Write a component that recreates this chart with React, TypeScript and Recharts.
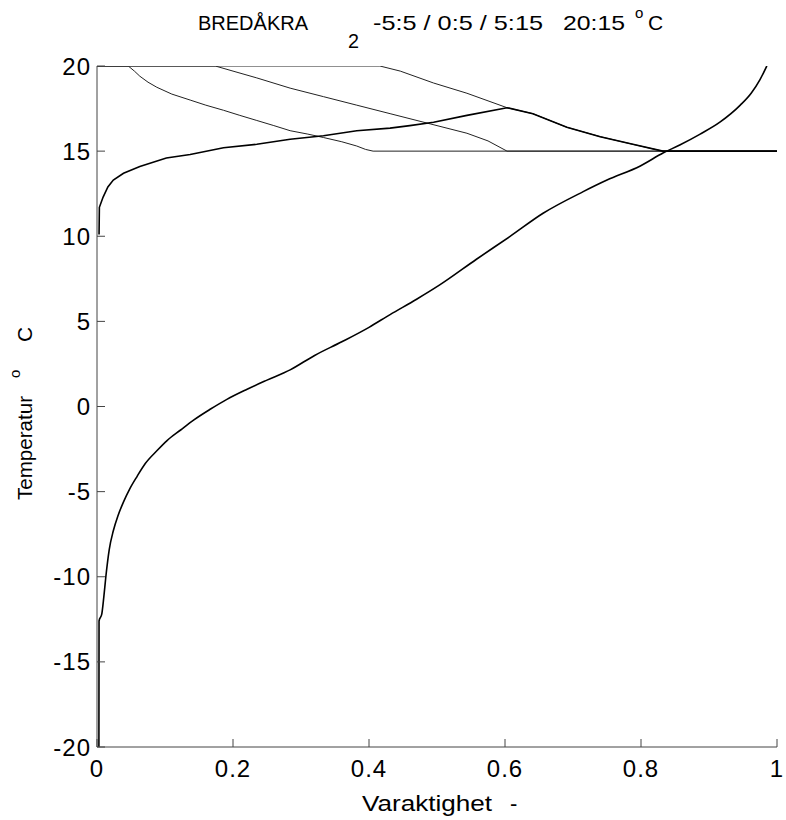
import React from "react";
import { LineChart, Line, XAxis, YAxis } from "recharts";

// ---- data ----
const xTicks = [0, 0.2, 0.4, 0.6, 0.8, 1];
const xTickLabels = ["0", "0.2", "0.4", "0.6", "0.8", "1"];
const yTicks = [-20, -15, -10, -5, 0, 5, 10, 15, 20];
const yTickLabels = ["-20", "-15", "-10", "-5", "0", "5", "10", "15", "20"];

// outdoor temperature duration curve
const durX = [0.0028, 0.003, 0.007, 0.010, 0.013, 0.018, 0.024, 0.031, 0.039, 0.048, 0.059, 0.071, 0.088, 0.103, 0.123, 0.142, 0.167, 0.191, 0.22, 0.25, 0.284, 0.32, 0.36, 0.40, 0.431, 0.47, 0.504, 0.558, 0.607, 0.656, 0.715, 0.75, 0.799, 0.833, 0.857, 0.887, 0.916, 0.946, 0.962, 0.975, 0.985];
const durY = [-20, -12.6, -12.2, -11.2, -10.0, -8.4, -7.3, -6.4, -5.6, -4.85, -4.1, -3.35, -2.6, -2.0, -1.38, -0.8, -0.15, 0.42, 1.0, 1.55, 2.15, 3.0, 3.8, 4.65, 5.4, 6.3, 7.14, 8.65, 9.98, 11.35, 12.62, 13.3, 14.13, 14.9, 15.36, 16.0, 16.7, 17.7, 18.4, 19.2, 20.0];

// rising curve (continues on the 5:15 curve after its peak)
const riseX = [0.003, 0.0035, 0.009, 0.016, 0.024, 0.039, 0.063, 0.102, 0.137, 0.186, 0.235, 0.284, 0.333, 0.382, 0.431, 0.46, 0.495, 0.544, 0.603, 0.641, 0.691, 0.74, 0.788, 0.832, 1.0];
const riseY = [10.1, 11.7, 12.3, 12.9, 13.3, 13.7, 14.1, 14.6, 14.8, 15.2, 15.4, 15.7, 15.9, 16.2, 16.35, 16.5, 16.7, 17.1, 17.55, 17.2, 16.4, 15.85, 15.4, 15.0, 15.0];

// curve -5:5
const aX = [0, 0.046, 0.055, 0.063, 0.075, 0.088, 0.11, 0.137, 0.16, 0.186, 0.21, 0.235, 0.26, 0.284, 0.31, 0.333, 0.36, 0.382, 0.395, 0.406, 1.0];
const aY = [20, 20, 19.7, 19.4, 19.05, 18.75, 18.35, 18.0, 17.7, 17.4, 17.1, 16.8, 16.5, 16.2, 16.0, 15.8, 15.55, 15.3, 15.1, 15.0, 15.0];

// curve 0:5
const bX = [0, 0.174, 0.2, 0.235, 0.284, 0.333, 0.382, 0.431, 0.49, 0.544, 0.575, 0.603, 1.0];
const bY = [20, 20, 19.7, 19.3, 18.7, 18.2, 17.7, 17.2, 16.6, 16.05, 15.6, 15.0, 15.0];

// curve 5:15
const cX = [0, 0.416, 0.446, 0.495, 0.544, 0.603, 0.641, 0.691, 0.74, 0.788, 0.832, 1.0];
const cY = [20, 20, 19.7, 19.0, 18.4, 17.55, 17.2, 16.4, 15.85, 15.4, 15.0, 15.0];

const toData = (xs: number[], ys: number[]) => xs.map((x, i) => ({ x, y: ys[i] }));

const durData = toData(durX, durY);
const riseData = toData(riseX, riseY);
const aData = toData(aX, aY);
const bData = toData(bX, bY);
const cData = toData(cX, cY);

// ---- layout ----
const W = 786;
const H = 820;
const Y_AXIS_W = 97;
const X_AXIS_H = 30;
const MARGIN = { top: 66, right: 9, left: 0, bottom: 43 };
const PLOT_LEFT = MARGIN.left + Y_AXIS_W;
const PLOT_BOTTOM = H - MARGIN.bottom - X_AXIS_H;
const TICK_LEN = 8;
const FONT = "'Liberation Sans', Arial, Helvetica, sans-serif";
const AXIS_COLOR = "#444";

const XTick = (props: any) => {
  const { x, payload } = props;
  const idx = xTicks.indexOf(payload.value);
  const label = idx >= 0 ? xTickLabels[idx] : String(payload.value);
  return (
    <g>
      <line x1={x} x2={x} y1={PLOT_BOTTOM} y2={PLOT_BOTTOM - TICK_LEN} stroke={AXIS_COLOR} strokeWidth={1} />
      <text x={x} y={PLOT_BOTTOM + 30} textAnchor="middle" fontFamily={FONT} fontSize={24} letterSpacing={1} fill="#000">
        {label}
      </text>
    </g>
  );
};

const YTick = (props: any) => {
  const { y, payload } = props;
  const idx = yTicks.indexOf(payload.value);
  const label = idx >= 0 ? yTickLabels[idx] : String(payload.value);
  return (
    <g>
      <line x1={PLOT_LEFT} x2={PLOT_LEFT + TICK_LEN} y1={y} y2={y} stroke={AXIS_COLOR} strokeWidth={1} />
      <text x={PLOT_LEFT - 6} y={y + 8.5} textAnchor="end" fontFamily={FONT} fontSize={24} letterSpacing={1} fill="#000">
        {label}
      </text>
    </g>
  );
};

export default function App() {
  return (
    <div style={{ position: "absolute", left: 0, top: 0, width: W, height: H, background: "#fff" }}>
      <LineChart width={W} height={H} margin={MARGIN}>
        <XAxis
          type="number"
          dataKey="x"
          domain={[0, 1]}
          ticks={xTicks}
          height={X_AXIS_H}
          tick={<XTick />}
          tickLine={false}
          axisLine={{ stroke: AXIS_COLOR, strokeWidth: 1 }}
          allowDataOverflow
        />
        <YAxis
          type="number"
          dataKey="y"
          domain={[-20, 20]}
          ticks={yTicks}
          width={Y_AXIS_W}
          tick={<YTick />}
          tickLine={false}
          axisLine={{ stroke: AXIS_COLOR, strokeWidth: 1 }}
          allowDataOverflow
        />
        <Line data={aData} dataKey="y" type="linear" stroke="#222" strokeWidth={1} dot={false} activeDot={false} isAnimationActive={false} />
        <Line data={bData} dataKey="y" type="linear" stroke="#222" strokeWidth={1} dot={false} activeDot={false} isAnimationActive={false} />
        <Line data={cData} dataKey="y" type="linear" stroke="#222" strokeWidth={1} dot={false} activeDot={false} isAnimationActive={false} />
        <Line data={riseData} dataKey="y" type="linear" stroke="#000" strokeWidth={1.6} dot={false} activeDot={false} isAnimationActive={false} />
        <Line data={durData} dataKey="y" type="monotoneX" stroke="#000" strokeWidth={1.6} dot={false} activeDot={false} isAnimationActive={false} />
      </LineChart>
      <svg width={W} height={H} style={{ position: "absolute", left: 0, top: 0, pointerEvents: "none" }}>
        <g fontFamily={FONT} fill="#000">
          <text x={198} y={30} fontSize={20.5} textLength={110} lengthAdjust="spacingAndGlyphs">BREDÅKRA</text>
          <text x={348} y={48} fontSize={21} textLength={11} lengthAdjust="spacingAndGlyphs">2</text>
          <text x={373} y={30} fontSize={21} textLength={170} lengthAdjust="spacingAndGlyphs">-5:5 / 0:5 / 5:15</text>
          <text x={563} y={30} fontSize={21} textLength={62} lengthAdjust="spacingAndGlyphs">20:15</text>
          <text x={635} y={18} fontSize={15}>o</text>
          <text x={648} y={30} fontSize={21}>C</text>

          <text x={362} y={811} fontSize={22} textLength={130} lengthAdjust="spacingAndGlyphs">Varaktighet</text>
          <text x={510} y={811} fontSize={22}>-</text>

          <g transform="translate(31.5,500) rotate(-90)">
            <text x={0} y={0} fontSize={21} textLength={104} lengthAdjust="spacingAndGlyphs">Temperatur</text>
            <text x={122} y={-12} fontSize={15}>o</text>
            <text x={158} y={0} fontSize={21}>C</text>
          </g>
        </g>
      </svg>
    </div>
  );
}
